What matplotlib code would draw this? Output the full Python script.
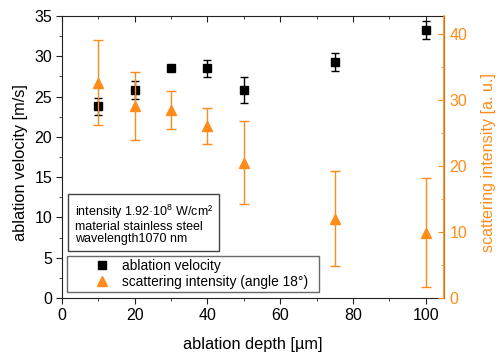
import matplotlib
matplotlib.use("Agg")
import matplotlib.pyplot as plt
from matplotlib.lines import Line2D
from matplotlib.ticker import MultipleLocator

plt.rcParams['font.family'] = ['Liberation Sans', 'DejaVu Sans']
plt.rcParams['mathtext.fontset'] = 'custom'
plt.rcParams['mathtext.rm'] = 'Liberation Sans'

orange = '#ff8c1a'

# data
depth = [10, 20, 30, 40, 50, 75, 100]
velocity = [23.8, 25.8, 28.6, 28.5, 25.8, 29.3, 33.3]
velocity_err = [1.05, 1.1, 0.0, 1.05, 1.6, 1.15, 1.1]
scatter = [32.6, 29.0, 28.4, 26.0, 20.5, 12.0, 9.9]
scatter_err = [6.45, 5.15, 2.9, 2.7, 6.3, 7.2, 8.25]

fig = plt.figure(figsize=(4.96, 3.56), dpi=100)
ax = fig.add_axes([0.125, 0.163, 0.77, 0.792])
ax2 = ax.twinx()

ax.errorbar(depth, velocity, yerr=velocity_err, fmt='s', color='black', ms=5.5,
            capsize=3, elinewidth=1, capthick=1, zorder=3)
ax2.errorbar(depth, scatter, yerr=scatter_err, fmt='^', color=orange, ms=7.5,
             capsize=3.5, elinewidth=1, capthick=1)

ax.set_xlim(0, 105)
ax.set_ylim(0, 35)
ax2.set_ylim(0, 42.67)

ax.xaxis.set_major_locator(MultipleLocator(20))
ax.xaxis.set_minor_locator(MultipleLocator(10))
ax.yaxis.set_major_locator(MultipleLocator(5))
ax.yaxis.set_minor_locator(MultipleLocator(2.5))
ax2.yaxis.set_major_locator(MultipleLocator(10))
ax2.yaxis.set_minor_locator(MultipleLocator(5))

ax.tick_params(axis='both', which='both', labelsize=11.5, color='#222222', pad=3)
ax.tick_params(axis='x', which='both', direction='out', top=True)
ax.tick_params(axis='x', which='major', length=4)
ax.tick_params(axis='x', which='minor', length=2.5)
ax.tick_params(axis='y', which='major', direction='out', length=4)
ax.tick_params(axis='y', which='minor', direction='out', length=2.5)
# top ticks point into the plot
for t in ax.xaxis.get_major_ticks() + ax.xaxis.get_minor_ticks():
    t.tick2line.set_marker(3)

ax2.tick_params(axis='y', which='both', direction='in', colors=orange, labelsize=11.5, pad=4)
ax2.tick_params(axis='y', which='major', length=4)
ax2.tick_params(axis='y', which='minor', length=2.5)

for s in ['left', 'bottom', 'top']:
    ax.spines[s].set_color('#222222')
ax2.spines['right'].set_color(orange)
ax2.spines['right'].set_linewidth(1.2)
for s in ['left', 'bottom', 'top']:
    ax2.spines[s].set_visible(False)

ax.set_xlabel('ablation depth [µm]', fontsize=11.8)
ax.xaxis.set_label_coords(0.5, -0.14)
ax.set_ylabel('ablation velocity [m/s]', fontsize=11.8)
ax.yaxis.set_label_coords(-0.089, 0.48)
ax2.set_ylabel('scattering intensity [a. u.]', fontsize=11.6, color=orange)
ax2.yaxis.set_label_coords(1.098, 0.48)

ax.text(3.5, 9.25, 'intensity 1.92·10$^{8}$ W/cm²\nmaterial stainless steel\nwavelength1070 nm',
        fontsize=9, va='center', ha='left', linespacing=1.0,
        bbox=dict(boxstyle='square,pad=0.5', fc='white', ec='#444444', lw=1))

handles = [Line2D([], [], ls='none', marker='s', color='black', ms=5.5),
           Line2D([], [], ls='none', marker='^', color=orange, ms=7.5)]
leg = ax2.legend(handles, ['ablation velocity', 'scattering intensity (angle 18°)'],
                 loc='lower left', bbox_to_anchor=(0.0131, 0.0213, 0.66, 0.1),
                 mode='expand', borderaxespad=0, fontsize=9.9,
                 frameon=True, fancybox=False, borderpad=0.25, labelspacing=0.1,
                 handletextpad=-0.84, handlelength=4.6)
leg.get_frame().set_edgecolor('#444444')
leg.get_frame().set_linewidth(1)

fig.savefig('out.png', dpi=100)
